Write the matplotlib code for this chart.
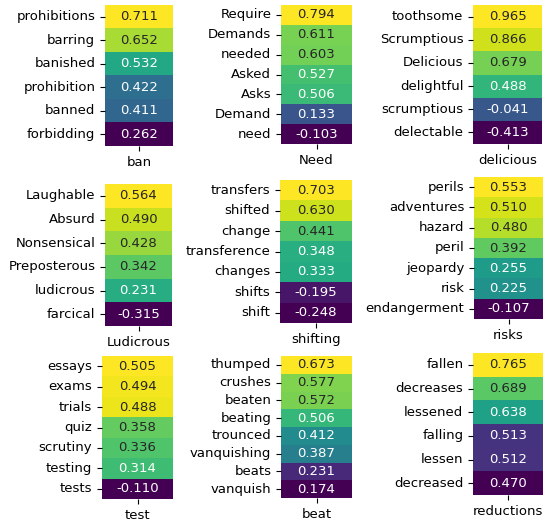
import matplotlib
matplotlib.use("Agg")
import matplotlib.pyplot as plt
import seaborn as sns
import pandas as pd

ban_words = ["prohibitions", "barring", "banished", "prohibition", "banned", "forbidding"]
ban_vals = [0.711, 0.652, 0.532, 0.422, 0.411, 0.262]

need_words = ["Require", "Demands", "needed", "Asked", "Asks", "Demand", "need"]
need_vals = [0.794, 0.611, 0.603, 0.527, 0.506, 0.133, -0.103]

delicious_words = ["toothsome", "Scrumptious", "Delicious", "delightful", "scrumptious", "delectable"]
delicious_vals = [0.965, 0.866, 0.679, 0.488, -0.041, -0.413]

ludicrous_words = ["Laughable", "Absurd", "Nonsensical", "Preposterous", "ludicrous", "farcical"]
ludicrous_vals = [0.564, 0.490, 0.428, 0.342, 0.231, -0.315]

shifting_words = ["transfers", "shifted", "change", "transference", "changes", "shifts", "shift"]
shifting_vals = [0.703, 0.630, 0.441, 0.348, 0.333, -0.195, -0.248]

risks_words = ["perils", "adventures", "hazard", "peril", "jeopardy", "risk", "endangerment"]
risks_vals = [0.553, 0.510, 0.480, 0.392, 0.255, 0.225, -0.107]

test_words = ["essays", "exams", "trials", "quiz", "scrutiny", "testing", "tests"]
test_vals = [0.505, 0.494, 0.488, 0.358, 0.336, 0.314, -0.110]

beat_words = ["thumped", "crushes", "beaten", "beating", "trounced", "vanquishing", "beats", "vanquish"]
beat_vals = [0.673, 0.577, 0.572, 0.506, 0.412, 0.387, 0.231, 0.174]

reductions_words = ["fallen", "decreases", "lessened", "falling", "lessen", "decreased"]
reductions_vals = [0.765, 0.689, 0.638, 0.513, 0.512, 0.470]

panels = [
    ("ban", ban_words, ban_vals),
    ("Need", need_words, need_vals),
    ("delicious", delicious_words, delicious_vals),
    ("Ludicrous", ludicrous_words, ludicrous_vals),
    ("shifting", shifting_words, shifting_vals),
    ("risks", risks_words, risks_vals),
    ("test", test_words, test_vals),
    ("beat", beat_words, beat_vals),
    ("reductions", reductions_words, reductions_vals),
]

# axes boxes in pixels: left, top, right, bottom
boxes = [
    (105, 5, 173, 146), (281, 5, 352, 144), (473, 5, 542, 144),
    (105, 184, 172, 326), (280, 180, 352, 323), (474, 177, 543, 319),
    (102, 356, 173, 499), (281, 356, 352, 498), (473, 353, 543, 495),
]

W, H = 548, 522
fig = plt.figure(figsize=(W / 100, H / 100), dpi=100)
plt.rcParams["font.size"] = 9.5

for (name, words, vals), (l, t, r, b) in zip(panels, boxes):
    ax = fig.add_axes([l / W, 1 - b / H, (r - l) / W, (b - t) / H])
    df = pd.DataFrame({name: vals}, index=words)
    sns.heatmap(df, ax=ax, annot=True, fmt=".3f", cmap="viridis", cbar=False,
                annot_kws={"fontsize": 9.5})
    ax.set_yticklabels(ax.get_yticklabels(), rotation=0, fontsize=9.5)
    ax.set_xticklabels(ax.get_xticklabels(), rotation=0, fontsize=9.5)
    ax.set_ylabel("")

fig.savefig("out.png", dpi=100)
